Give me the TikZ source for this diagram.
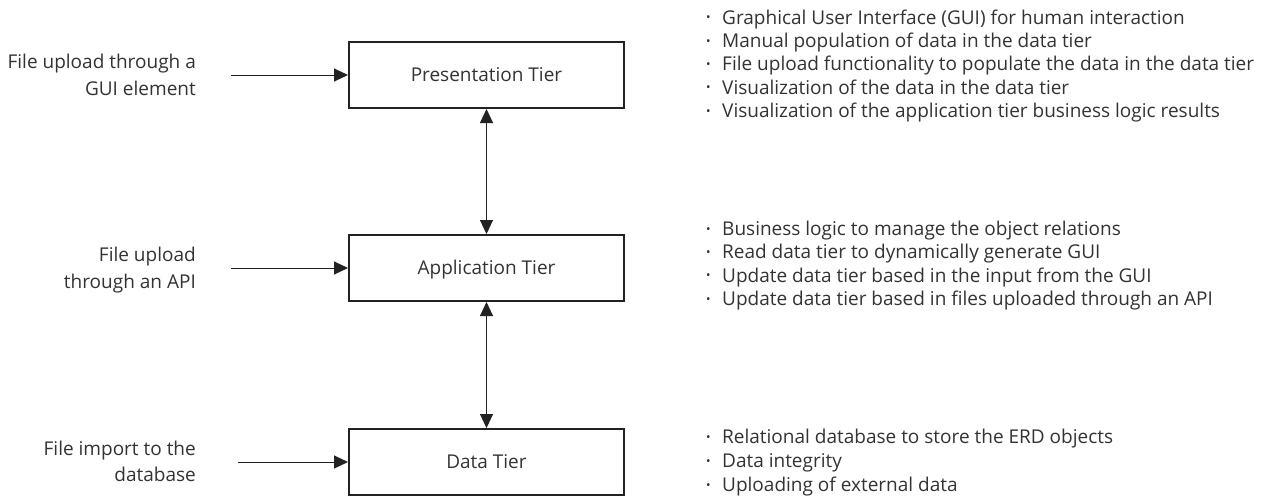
\documentclass[tikz,border=0pt]{standalone}
\usepackage{fontspec}
\setmainfont{Open Sans}
\usetikzlibrary{arrows.meta}
\definecolor{txt}{HTML}{333333}
\definecolor{ln}{HTML}{222222}
\newcommand\mybul{\makebox[16pt][l]{\raisebox{0.22ex}{\fontsize{12}{12}\selectfont •}}}
\tikzset{
  tier/.style={draw=ln, line width=2pt, minimum width=275pt, minimum height=66pt, inner sep=0pt,
    text height=12.5pt, text depth=0pt, font=\fontsize{19}{23}\selectfont, text=txt},
  lbl/.style={anchor=base east, inner sep=0pt, font=\fontsize{19}{23}\selectfont, text=txt},
  item/.style={anchor=base west, inner sep=0pt, font=\fontsize{19}{23}\selectfont, text=txt},
  conn/.style={draw=ln, line width=1pt, -{Triangle[length=14pt,width=13pt]}},
  conn2/.style={draw=ln, line width=1pt, {Triangle[length=14pt,width=13pt]}-{Triangle[length=14pt,width=13pt]}},
}
\begin{document}
\begin{tikzpicture}[x=1pt,y=-1pt]
\useasboundingbox[fill=white] (0,0) rectangle (1265,501);
% tiers
\node[tier] (pres) at (486.5,75) {Presentation Tier};
\node[tier] (app) at (486.5,268) {Application Tier};
\node[tier] (data) at (486.5,462) {Data Tier};
% vertical connectors
\draw[conn2] (pres.south) -- (app.north);
\draw[conn2] (app.south) -- (data.north);
% left labels
\node[lbl] (l1a) at (196,68.5) {File upload through a};
\node[lbl] (l1b) at (196,95.2) {GUI element};
\node[lbl] (l2a) at (196,261.7) {File upload};
\node[lbl] (l2b) at (196,288.4) {through an API};
\node[lbl] (l3a) at (196,455) {File import to the};
\node[lbl] (l3b) at (196,481.7) {database};
\coordinate (s1) at (231,75);
\coordinate (s2) at (231,268);
\coordinate (s3) at (238,462);
\draw[conn] (s1) -- (pres.west);
\draw[conn] (s2) -- (app.west);
\draw[conn] (s3) -- (data.west);
% right lists
\node[item] (p1) at (706,24) {\mybul Graphical User Interface (GUI) for human interaction};
\node[item] (p2) at (706,47.3) {\mybul Manual population of data in the data tier};
\node[item] (p3) at (706,70.6) {\mybul File upload functionality to populate the data in the data tier};
\node[item] (p4) at (706,94) {\mybul Visualization of the data in the data tier};
\node[item] (p5) at (706,117.3) {\mybul Visualization of the application tier business logic results};
\node[item] (a1) at (706,235.5) {\mybul Business logic to manage the object relations};
\node[item] (a2) at (706,258.8) {\mybul Read data tier to dynamically generate GUI};
\node[item] (a3) at (706,282.1) {\mybul Update data tier based in the input from the GUI};
\node[item] (a4) at (706,305.5) {\mybul Update data tier based in files uploaded through an API};
\node[item] (d1) at (706,443.5) {\mybul Relational database to store the ERD objects};
\node[item] (d2) at (706,467.5) {\mybul Data integrity};
\node[item] (d3) at (706,491.5) {\mybul Uploading of external data};
\end{tikzpicture}
\end{document}
